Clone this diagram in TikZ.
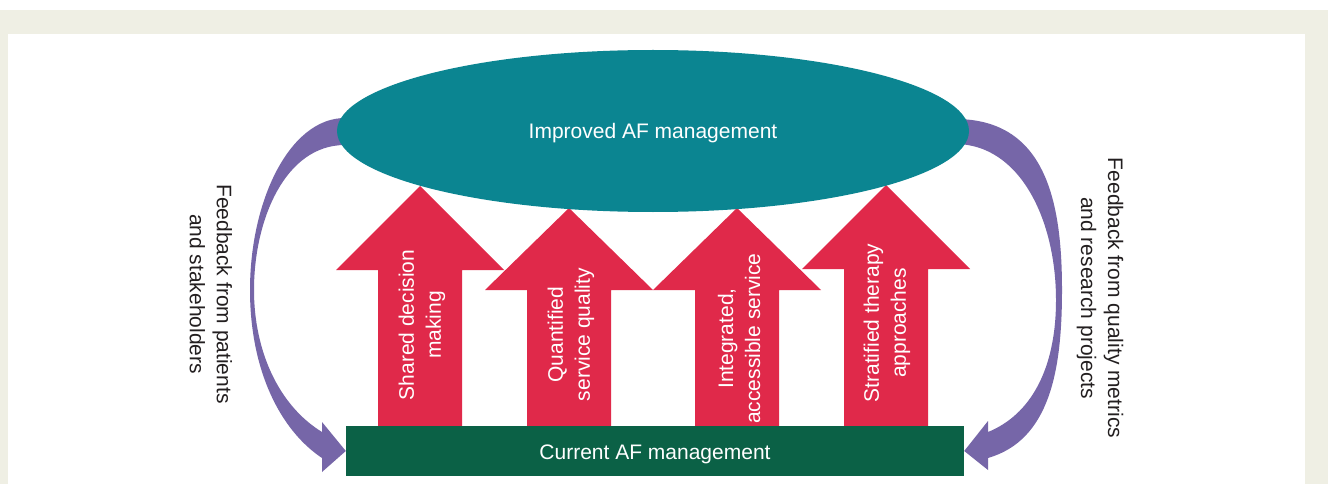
\documentclass[tikz,border=0pt]{standalone}
\usepackage{fontspec}
\setmainfont{Liberation Sans}
\usetikzlibrary{shapes.geometric}
\definecolor{bgbeige}{HTML}{EFEFE4}
\definecolor{tealc}{HTML}{0B8591}
\definecolor{greenc}{HTML}{0B6146}
\definecolor{redarr}{HTML}{E0294A}
\definecolor{purp}{HTML}{7666A8}
\definecolor{txtdark}{HTML}{231F20}
\pgfdeclarelayer{bg}
\pgfdeclarelayer{mid}
\pgfsetlayers{bg,mid,main}
\newcommand\redupshape[3]{%
  \fill[uparr] ({#1-42},426) -- ({#1-42},#2) -- ({#1-84},#2) -- (#1,#3)
    -- ({#1+84},#2) -- ({#1+42},#2) -- ({#1+42},426) -- cycle;}
\tikzset{
  lbl/.style={font=\fontsize{21}{27}\selectfont, align=center, inner sep=0pt},
  inlbl/.style={lbl, text=white, rotate=90},
  fblbl/.style={lbl, text=txtdark, rotate=-90},
  band/.style={fill=purp},
  uparr/.style={fill=redarr},
  boxtext/.style={font=\fontsize{21}{27}\selectfont, text=white, inner sep=0pt, text depth=0pt}
}
\begin{document}
\begin{tikzpicture}[x=1pt,y=-1pt]
\useasboundingbox (0,0) rectangle (1328,484);
\begin{pgfonlayer}{bg}
  \fill[white] (0,0) rectangle (1328,484);
  \fill[bgbeige] (0,10) rectangle (1328,484);
  \fill[white] (8,34) rectangle (1305,484);
\end{pgfonlayer}

% main shapes
\node[ellipse, fill=tealc, minimum width=632pt, minimum height=162pt,
      boxtext, text height=14.6pt] (improved) at (653,131) {Improved AF management};
\node[rectangle, fill=greenc, minimum width=618pt, minimum height=50pt,
      boxtext, text height=16.6pt] (current) at (655,451) {Current AF management};

% labels
\node[inlbl] (sdm) at (422,325) {Shared decision\\making};
\node[inlbl] (qsq) at (571,334.5) {Quantified\\service quality};
\node[inlbl] (ias) at (739,338.5) {Integrated,\\accessible service};
\node[inlbl] (sta) at (887,323) {Stratified therapy\\approaches};
\node[fblbl] (fbl) at (211,294) {Feedback from patients\\and stakeholders};
\node[fblbl] (fbr) at (1100,298) {Feedback from quality metrics\\and research projects};

\begin{pgfonlayer}{mid}
  % red arrows
  \redupshape{420}{270}{186}
  \redupshape{569}{290}{208}
  \redupshape{737}{290}{208}
  \redupshape{886}{269}{185}
  % left feedback band
  \fill[band] (345,118) .. controls (290,118) and (250,200) .. (250,290)
      .. controls (250,370) and (280,430) .. (322,458)
      -- (322,472) -- (current.west) -- (322,422) -- (322,432)
      .. controls (278,405) and (254,350) .. (254,290)
      .. controls (254,220) and (285,145) .. (345,145) -- cycle;
  % right feedback band
  \fill[band] (955,119) .. controls (1045,119) and (1062,200) .. (1062,290)
      .. controls (1062,370) and (1050,440) .. (988,458)
      -- (988,470) -- (current.east) -- (988,421) -- (988,432)
      .. controls (1030,415) and (1056,370) .. (1056,300)
      .. controls (1056,220) and (1020,144) .. (955,144) -- cycle;
\end{pgfonlayer}
\end{tikzpicture}
\end{document}
